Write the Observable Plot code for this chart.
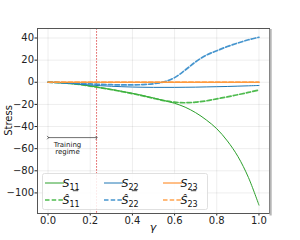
<!DOCTYPE html>
<html>
<head>
<meta charset="utf-8">
<script src="https://cdn.jsdelivr.net/npm/d3@7"></script>
<script src="https://cdn.jsdelivr.net/npm/@observablehq/plot@0.6"></script>
<style>
  html, body { margin: 0; padding: 0; background: #fff; }
  #chart { width: 300px; height: 240px; }
  svg { font-family: "DejaVu Sans", sans-serif; }
</style>
</head>
<body>
<div id="chart"></div>
<script>
// ---- data ----
const gamma = [0, 0.05, 0.1, 0.15, 0.2, 0.25, 0.3, 0.35, 0.4, 0.45, 0.5, 0.55, 0.6, 0.65, 0.7, 0.75, 0.8, 0.85, 0.9, 0.95, 1.0];
const S11    = [0, -0.3, -1.0, -2.0, -3.4, -5.0, -6.5, -8.2, -10.0, -12.0, -14.2, -16.5, -19.0, -22.5, -27.5, -34.0, -42.0, -53.0, -67.0, -86.0, -111.0];
const S11hat = [0, -0.3, -1.0, -2.0, -3.4, -5.0, -6.6, -8.4, -10.3, -12.3, -14.5, -16.6, -18.0, -18.5, -18.0, -16.8, -15.0, -13.2, -11.2, -9.2, -7.0];
const S22    = [0, -0.4, -1.0, -1.7, -2.5, -3.1, -3.6, -4.0, -4.3, -4.5, -4.6, -4.6, -4.6, -4.5, -4.4, -4.2, -4.0, -3.8, -3.5, -3.2, -2.9];
const S22hat = [0, -0.2, -0.6, -1.0, -1.5, -1.9, -2.2, -2.4, -2.4, -2.1, -1.3, 0.4, 4.2, 11.0, 18.5, 24.5, 28.5, 32.3, 35.5, 38.4, 40.7];
const S23    = [0, 0, 0, 0, 0, 0, 0, 0, 0, 0, 0, 0, 0, 0, 0, 0, 0, 0, 0, 0, 0];
const S23hat = [0, 0.1, 0.1, 0.1, 0.1, 0.1, 0.1, 0.1, 0.1, 0.1, 0.1, 0.1, 0.1, 0.1, 0.1, 0.1, 0.1, 0.1, 0.1, 0.1, 0.1];

const xTicks = [0.0, 0.2, 0.4, 0.6, 0.8, 1.0];
const yTicks = [-100, -80, -60, -40, -20, 0, 20, 40];
const trainingEnd = 0.23;
const arrowY = -50;
const noteLines = ["Training", "regime"];
const noteX = 0.092;
const noteY = [-56.5, -63];

const seriesNames = ["S11", "S11hat", "S22", "S22hat", "S23", "S23hat"];
const seriesValues = [S11, S11hat, S22, S22hat, S23, S23hat];
const seriesColors = ["#2ca02c", "#3cb43c", "#1f77b4", "#3289c9", "#ff7f0e", "#ff9a3c"];
const seriesDashed = [false, true, false, true, false, true];
const legendSub = ["11", "11", "22", "22", "23", "23"];

// ---- build ----
const lineMarks = seriesNames.map((name, i) => {
  const rows = gamma.map((g, j) => ({g, v: seriesValues[i][j]}));
  return Plot.line(rows, {
    x: "g", y: "v", curve: "catmull-rom",
    stroke: seriesColors[i],
    strokeWidth: seriesDashed[i] ? 1.7 : 1,
    strokeDasharray: seriesDashed[i] ? "4.5,2.2" : null,
    strokeOpacity: seriesDashed[i] ? 0.9 : 1
  });
});

const chart = Plot.plot({
  width: 300, height: 240,
  marginLeft: 37, marginRight: 31, marginTop: 28, marginBottom: 27,
  style: {fontFamily: "DejaVu Sans, sans-serif", fontSize: "10px", color: "#222", background: "#fff"},
  x: {domain: [-0.05, 1.05]},
  y: {domain: [-118.6, 48.6]},
  marks: [
    Plot.gridX(xTicks, {stroke: "#000", strokeOpacity: 0.07}),
    Plot.gridY(yTicks, {stroke: "#000", strokeOpacity: 0.07}),
    Plot.ruleX([trainingEnd], {stroke: "#e05a5a", strokeOpacity: 0.85, strokeWidth: 1, strokeDasharray: "1.8,1.2"}),
    ...lineMarks,
    Plot.link([{x1: 0, x2: trainingEnd, y: arrowY}], {
      x1: "x1", x2: "x2", y1: "y", y2: "y",
      stroke: "#333", strokeWidth: 0.7, markerStart: "arrow", markerEnd: "arrow"
    }),
    Plot.text(noteLines.map((t, i) => ({t, y: noteY[i]})), {
      x: () => noteX, y: "y", text: "t", fontSize: 7, fill: "#222"
    }),
    Plot.axisX(xTicks, {tickFormat: d3.format(".1f"), tickSize: 2.5, tickPadding: 0.5, label: null, fontSize: 10}),
    Plot.axisY(yTicks, {tickSize: 2.5, tickPadding: 1, label: null, fontSize: 10}),
    Plot.frame({stroke: "#555", strokeWidth: 1})
  ]
});

document.getElementById("chart").appendChild(chart);

// ---- decorations: frame shadow, axis labels, legend ----
const svg = d3.select(chart);
const L = 37, T = 28, R = 269, B = 213;
svg.append("rect").attr("x", R + 0.5).attr("y", T + 1).attr("width", 2.2).attr("height", B - T + 1.5)
  .attr("fill", "#b5b5b5");

svg.append("text").attr("transform", `translate(8.5,${(T + B) / 2}) rotate(-90)`)
  .attr("text-anchor", "middle").attr("dominant-baseline", "middle")
  .attr("font-size", 10).attr("fill", "#111").text("Stress");
svg.append("text").attr("x", 153).attr("y", 228)
  .attr("text-anchor", "middle").attr("dominant-baseline", "middle")
  .attr("font-size", 11).attr("font-style", "italic").attr("fill", "#111").text("γ");

const lg = svg.append("g");
lg.append("rect").attr("x", 42.5).attr("y", 173.5).attr("width", 165).attr("height", 36)
  .attr("rx", 2).attr("fill", "#fff").attr("fill-opacity", 0.85).attr("stroke", "#d8d8d8").attr("stroke-width", 0.8);
const colX = [45, 104, 163];
const rowY = [183, 200];
seriesNames.forEach((name, i) => {
  const c = Math.floor(i / 2), r = i % 2;
  const x0 = colX[c], y0 = rowY[r];
  lg.append("line").attr("x1", x0).attr("x2", x0 + 19).attr("y1", y0).attr("y2", y0)
    .attr("stroke", seriesColors[i])
    .attr("stroke-width", seriesDashed[i] ? 1.7 : 1)
    .attr("stroke-dasharray", seriesDashed[i] ? "4.5,2.2" : null)
    .attr("stroke-opacity", seriesDashed[i] ? 0.9 : 1);
  const tx = x0 + 26;
  const t = lg.append("text").attr("x", tx).attr("y", y0 + 4).attr("font-size", 11).attr("fill", "#111");
  t.append("tspan").attr("font-style", "italic").text(seriesDashed[i] ? "S\u0302" : "S");
  t.append("tspan").attr("font-size", 8).attr("dy", 2.5).text(legendSub[i]);
  if (seriesDashed[i]) {
    lg.append("line").attr("x1", tx + 1.8).attr("x2", tx + 7.2).attr("y1", y0 - 9.3).attr("y2", y0 - 9.3)
      .attr("stroke", "#111").attr("stroke-width", 0.8);
  }
});
</script>
</body>
</html>
